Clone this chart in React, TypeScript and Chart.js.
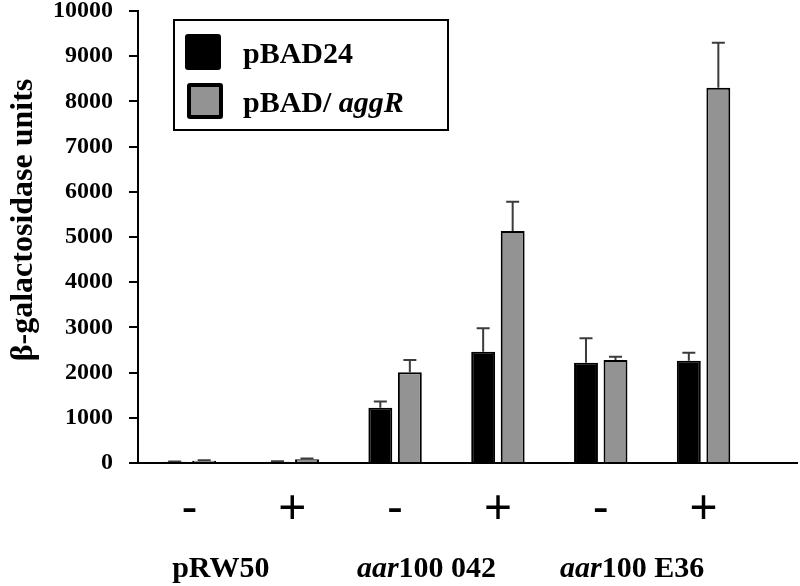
import React, { useEffect, useRef } from 'react';
import { Chart, registerables } from 'chart.js';

Chart.register(...registerables);

// ---- data ----
const categories = ['-', '+', '-', '+', '-', '+'];
const groupItalic = ['', 'aar', 'aar'];
const groupNormal = ['pRW50', '100 042', '100 E36'];
const seriesNames = ['pBAD24', 'pBAD/ '];
const seriesItalic = ['', 'aggR'];
const pBAD24Values = [25, 30, 1220, 2460, 2220, 2260];
const pBAD24Errors = [10, 10, 140, 520, 540, 180];
const aggRValues = [50, 85, 2010, 5130, 2280, 8300];
const aggRErrors = [10, 15, 270, 650, 70, 1000];
const yMin = 0;
const yMax = 10000;
const yStep = 1000;
const yTitle = 'β-galactosidase units';

const SERIF = '"Liberation Serif", "Times New Roman", serif';
const SANS = '"Liberation Sans", Arial, sans-serif';
const GRAY = '#939393';

const customPlugin = {
  id: 'custom',
  afterDatasetsDraw(chart: any) {
    const ctx = chart.ctx;
    const y = chart.scales.y;
    const errs = [pBAD24Errors, aggRErrors];
    const vals = [pBAD24Values, aggRValues];
    ctx.save();
    ctx.strokeStyle = '#3c3c3c';
    ctx.lineWidth = 2;
    for (let d = 0; d < 2; d++) {
      const meta = chart.getDatasetMeta(d);
      meta.data.forEach((bar: any, i: number) => {
        const top = y.getPixelForValue(vals[d][i]);
        const errTop = y.getPixelForValue(vals[d][i] + errs[d][i]);
        ctx.beginPath();
        ctx.moveTo(bar.x, top);
        ctx.lineTo(bar.x, errTop);
        ctx.moveTo(bar.x - 6.5, errTop);
        ctx.lineTo(bar.x + 6.5, errTop);
        ctx.stroke();
      });
    }
    ctx.restore();
  },
  afterDraw(chart: any) {
    const ctx = chart.ctx;
    const area = chart.chartArea;
    const x = chart.scales.x;
    ctx.save();
    // x axis extension
    ctx.strokeStyle = '#000';
    ctx.lineWidth = 2;
    ctx.beginPath();
    ctx.moveTo(area.left, area.bottom);
    ctx.lineTo(chart.width - 2, area.bottom);
    ctx.stroke();

    // y title
    ctx.save();
    ctx.translate(24, 220);
    ctx.rotate(-Math.PI / 2);
    ctx.font = `bold 32px ${SERIF}`;
    ctx.fillStyle = '#000';
    ctx.textAlign = 'center';
    ctx.textBaseline = 'middle';
    ctx.fillText(yTitle, 0, 0);
    ctx.restore();

    // group labels
    ctx.fillStyle = '#000';
    ctx.textBaseline = 'alphabetic';
    for (let g = 0; g < groupNormal.length; g++) {
      const cx = (x.getPixelForValue(g * 2) + x.getPixelForValue(g * 2 + 1)) / 2 - 20;
      ctx.font = `italic bold 30px ${SERIF}`;
      const wi = ctx.measureText(groupItalic[g]).width;
      ctx.font = `bold 30px ${SERIF}`;
      const wn = ctx.measureText(groupNormal[g]).width;
      const start = cx - (wi + wn) / 2;
      ctx.font = `italic bold 30px ${SERIF}`;
      ctx.textAlign = 'left';
      ctx.fillText(groupItalic[g], start, 577);
      ctx.font = `bold 30px ${SERIF}`;
      ctx.fillText(groupNormal[g], start + wi, 577);
    }

    // legend
    const lx = area.left + 36;
    const ly = area.top + 9;
    ctx.lineWidth = 2;
    ctx.strokeStyle = '#000';
    ctx.strokeRect(lx, ly, 274, 110);
    const colors = ['#000', GRAY];
    for (let s = 0; s < 2; s++) {
      const sy = ly + 14 + s * 49;
      ctx.beginPath();
      if (s === 0) {
        ctx.fillStyle = '#000';
        (ctx as any).roundRect(lx + 11, sy, 36, 36, 3);
        ctx.fill();
      } else {
        ctx.fillStyle = '#000';
        (ctx as any).roundRect(lx + 13, sy, 36, 36, 3);
        ctx.fill();
        ctx.fillStyle = colors[s];
        ctx.fillRect(lx + 17, sy + 4, 28, 28);
      }
      ctx.fillStyle = '#000';
      ctx.textAlign = 'left';
      ctx.font = `bold 30px ${SERIF}`;
      const tx = lx + 69;
      const base = sy + 29;
      ctx.fillText(seriesNames[s], tx, base);
      const w = ctx.measureText(seriesNames[s]).width;
      ctx.font = `italic bold 30px ${SERIF}`;
      ctx.fillText(seriesItalic[s], tx + w, base);
    }
    ctx.restore();
  },
};

export default function App() {
  const ref = useRef<HTMLCanvasElement>(null);
  useEffect(() => {
    if (!ref.current) return;
    const chart = new Chart(ref.current, {
      type: 'bar',
      data: {
        labels: categories,
        datasets: [
          {
            label: seriesNames[0],
            data: pBAD24Values,
            backgroundColor: '#000',
            borderColor: '#000',
            borderWidth: 2,
          },
          {
            label: seriesNames[1] + seriesItalic[1],
            data: aggRValues,
            backgroundColor: GRAY,
            borderColor: '#000',
            borderWidth: 2,
          },
        ],
      },
      options: {
        animation: false,
        responsive: false,
        devicePixelRatio: 1,
        categoryPercentage: 0.574,
        barPercentage: 0.81,
        layout: { padding: { top: 11, right: 45, left: 0, bottom: 0 } },
        plugins: {
          legend: { display: false },
          tooltip: { enabled: false },
        },
        scales: {
          x: {
            grid: { display: false, drawTicks: false },
            border: { display: true, color: '#000', width: 2 },
            ticks: {
              color: '#000',
              font: { family: SANS, size: 48 },
              padding: 18,
              maxRotation: 0,
            },
            afterFit: (s: any) => {
              s.height = 123;
              s.paddingLeft = 0;
              s.paddingRight = 0;
            },
          },
          y: {
            min: yMin,
            max: yMax,
            grid: {
              display: true,
              drawOnChartArea: false,
              drawTicks: true,
              tickLength: 9,
              lineWidth: 2,
              color: '#000',
            },
            border: { display: true, color: '#000', width: 2 },
            ticks: {
              stepSize: yStep,
              color: '#000',
              font: { family: SERIF, size: 24, weight: 'bold' },
              padding: 16,
              callback: (v: any) => String(v),
            },
            afterFit: (s: any) => {
              s.width = 138;
              s.paddingTop = 0;
              s.paddingBottom = 0;
            },
          },
        },
      },
      plugins: [customPlugin],
    } as any);
    return () => chart.destroy();
  }, []);
  return (
    <div style={{ position: 'absolute', left: 0, top: 0, width: 800, height: 586, background: '#fff' }}>
      <canvas ref={ref} width={800} height={586} style={{ display: 'block' }} />
    </div>
  );
}
